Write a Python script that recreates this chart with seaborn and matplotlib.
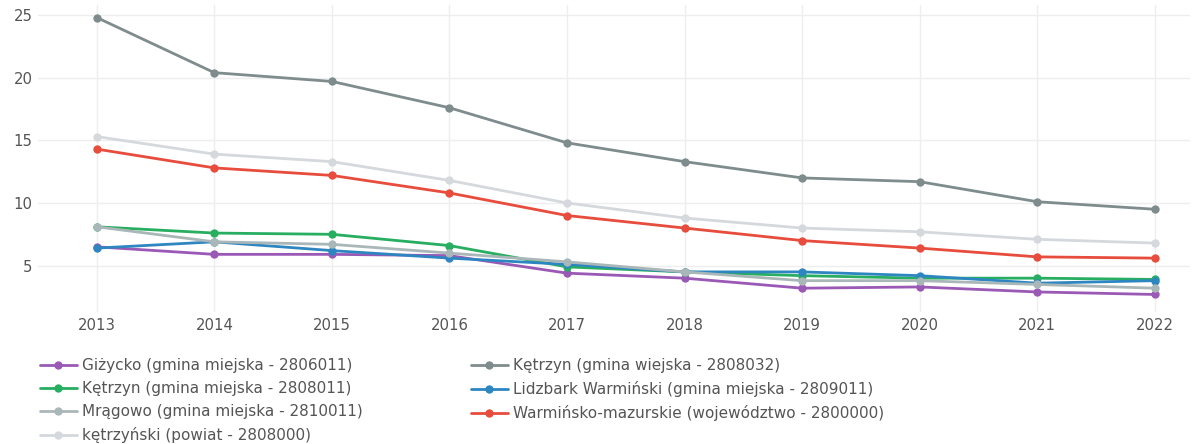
import numpy as np
import pandas as pd
import matplotlib
matplotlib.use("Agg")
import matplotlib.pyplot as plt
import seaborn as sns

# data
years = [2013, 2014, 2015, 2016, 2017, 2018, 2019, 2020, 2021, 2022]

gizycko = [6.5, 5.9, 5.9, 5.8, 4.4, 4.0, 3.2, 3.3, 2.9, 2.7]
ketrzyn_wiejska = [24.8, 20.4, 19.7, 17.6, 14.8, 13.3, 12.0, 11.7, 10.1, 9.5]
ketrzyn_miejska = [8.1, 7.6, 7.5, 6.6, 4.9, 4.5, 4.2, 4.0, 4.0, 3.9]
lidzbark = [6.4, 6.9, 6.2, 5.6, 5.1, 4.5, 4.5, 4.2, 3.6, 3.8]
mragowo = [8.1, 6.9, 6.7, 6.0, 5.3, 4.5, 3.8, 3.8, 3.5, 3.2]
warminsko = [14.3, 12.8, 12.2, 10.8, 9.0, 8.0, 7.0, 6.4, 5.7, 5.6]
ketrzynski = [15.3, 13.9, 13.3, 11.8, 10.0, 8.8, 8.0, 7.7, 7.1, 6.8]

names = [
    "Giżycko (gmina miejska - 2806011)",
    "Kętrzyn (gmina wiejska - 2808032)",
    "Kętrzyn (gmina miejska - 2808011)",
    "Lidzbark Warmiński (gmina miejska - 2809011)",
    "Mrągowo (gmina miejska - 2810011)",
    "Warmińsko-mazurskie (województwo - 2800000)",
    "kętrzyński (powiat - 2808000)",
]
series = [gizycko, ketrzyn_wiejska, ketrzyn_miejska, lidzbark, mragowo, warminsko, ketrzynski]
colors = ["#9b59b6", "#7f8c8d", "#27ae60", "#2e86c1", "#aab7b8", "#e74c3c", "#d5d8dc"]

rows = []
for n, vals in zip(names, series):
    for y, v in zip(years, vals):
        rows.append({"rok": y, "wartosc": v, "seria": n})
df = pd.DataFrame(rows)

sns.set_style("white")
plt.rcParams['font.family'] = ['DejaVu Sans']

fig = plt.figure(figsize=(11.93, 4.44), dpi=100)
ax = fig.add_axes([38 / 1193, 132 / 444, 1152 / 1193, 307 / 444])

sns.lineplot(data=df, x="rok", y="wartosc", hue="seria", hue_order=names,
             palette=dict(zip(names, colors)), marker="o", markersize=6,
             markeredgewidth=0, linewidth=2, ax=ax, legend=False)

ax.set_xlim(2012.50, 2022.3)
ax.set_ylim(1.3, 25.8)
ax.set_xticks(years)
ax.set_yticks([5, 10, 15, 20, 25])
ax.set_xlabel("")
ax.set_ylabel("")
ax.grid(True, color="#eeeeee", linewidth=1)
ax.set_axisbelow(True)
for s in ax.spines.values():
    s.set_visible(False)
ax.tick_params(axis="both", length=0, labelsize=10.7, labelcolor="#555555")
ax.tick_params(axis="x", pad=4)
ax.tick_params(axis="y", pad=4)

# legend: plotly order row-wise -> matplotlib fills columns first
order = [0, 2, 4, 6, 1, 3, 5]
handles = [plt.Line2D([], [], color=colors[i], marker="o", markersize=6,
                      markeredgewidth=0, linewidth=2) for i in order]
labels = [names[i] for i in order]
fig.legend(handles, labels, ncol=2, loc="upper left", bbox_to_anchor=(34 / 1193, 1 - 352 / 444),
           frameon=False, fontsize=11, labelcolor="#555555", handlelength=2.4,
           handletextpad=0.33, columnspacing=7.1, labelspacing=0.52, borderaxespad=0)

fig.savefig("out.png", dpi=100)
